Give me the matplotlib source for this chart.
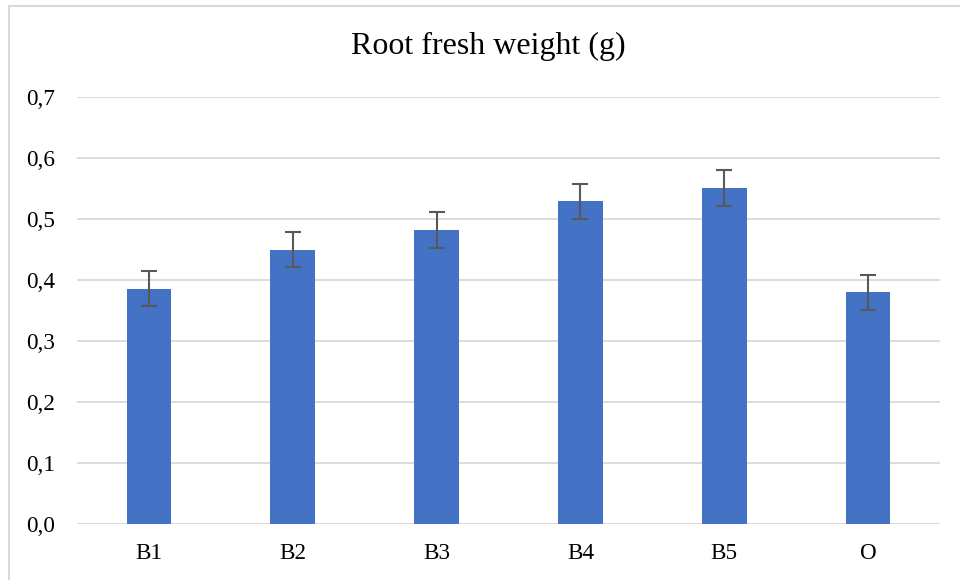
import matplotlib
matplotlib.use("Agg")
import matplotlib.pyplot as plt
from matplotlib.lines import Line2D
import numpy as np

categories = ["B1", "B2", "B3", "B4", "B5", "O"]
values = [0.386, 0.450, 0.482, 0.529, 0.551, 0.380]
errors = [0.029, 0.029, 0.029, 0.029, 0.029, 0.029]
yticks = [0.0, 0.1, 0.2, 0.3, 0.4, 0.5, 0.6, 0.7]
title = "Root fresh weight (g)"

plt.rcParams['font.family'] = ['Liberation Serif', 'DejaVu Serif']

fig = plt.figure(figsize=(9.6, 5.8), dpi=100)
ax = fig.add_axes([77/960, 1-524/580, (940-77)/960, (524-97)/580])

x = np.arange(len(categories))
ax.bar(x, values, width=0.31, color="#4472C4", zorder=3)
ax.errorbar(x, values, yerr=errors, fmt='none', ecolor="#595959",
            elinewidth=1.5, capsize=6, capthick=1.5, zorder=4)

ax.set_xlim(-0.5, len(categories) - 0.5)
ax.set_ylim(0, 0.7)
ax.set_yticks(yticks)
ax.set_yticklabels([f"{v:.1f}".replace('.', ',') for v in yticks])
ax.set_xticks(x)
ax.set_xticklabels(categories)
ax.tick_params(axis='both', length=0, labelsize=16.7, colors="#000000")
ax.tick_params(axis='y', pad=16)
ax.tick_params(axis='x', pad=14)
ax.yaxis.grid(True, color="#D9D9D9", linewidth=1.3, zorder=0)
ax.set_axisbelow(True)
for s in ax.spines.values():
    s.set_visible(False)

fig.text(488/960, 1-46/580, title, ha='center', va='center', fontsize=23)

# outer chart border
fig.add_artist(Line2D([9/960, 9/960], [0, 1-6/580], color="#D9D9D9", lw=1.5, transform=fig.transFigure))
fig.add_artist(Line2D([9/960, 1], [1-6/580, 1-6/580], color="#D9D9D9", lw=1.5, transform=fig.transFigure))

fig.savefig("out.png", dpi=100)
